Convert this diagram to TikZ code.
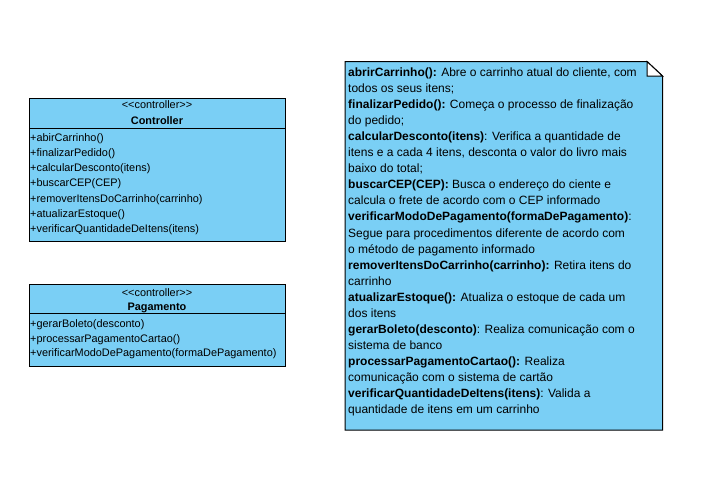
\documentclass[tikz,border=0pt]{standalone}
\usepackage{fontspec}
\setmainfont{Liberation Sans}
\definecolor{umlblue}{RGB}{122,207,245}
\tikzset{
  umlbox/.style={draw=black, fill=umlblue, line width=1pt, inner sep=0pt, anchor=north west},
  ctext/.style={anchor=base west, inner sep=0pt, font=\fontsize{10.9}{12}\selectfont},
  chead/.style={anchor=base, inner sep=0pt, font=\fontsize{10.9}{12}\selectfont},
  ntext/.style={anchor=base west, inner sep=0pt, font=\fontsize{12}{14}\selectfont},
}
\begin{document}
\begin{tikzpicture}[x=1pt,y=-1pt]
\useasboundingbox[fill=white] (0,0) rectangle (720,482);
% Controller class
\node[umlbox, minimum width=256pt, minimum height=143.5pt] (ctrl) at (29,97.5) {};
\draw[line width=1pt] (29,128) -- (285,128);
\node[chead] (ctrlst) at (157,108.5) {{<}{<}controller{>}{>}};
\node[chead] (ctrlname) at (157,124) {\bfseries Controller};
\foreach \t [count=\i] in {+abirCarrinho(),+finalizarPedido(),+calcularDesconto(itens),+buscarCEP(CEP),+removerItensDoCarrinho(carrinho),+atualizarEstoque(),+verificarQuantidadeDeItens(itens)}
  \node[ctext] (cm\i) at (30,{137+(\i-1)*15.3+4}) {\t};
% Pagamento class
\node[umlbox, minimum width=256pt, minimum height=82pt] (pag) at (29,284) {};
\draw[line width=1pt] (29,313.5) -- (285,313.5);
\node[chead] (pagst) at (157,296.5) {{<}{<}controller{>}{>}};
\node[chead] (pagname) at (157,310) {\bfseries Pagamento};
\foreach \t [count=\i] in {+gerarBoleto(desconto),+processarPagamentoCartao(),+verificarModoDePagamento(formaDePagamento)}
  \node[ctext] (pm\i) at (30,{323.5+(\i-1)*14.7+4}) {\t};
% Note
\filldraw[fill=umlblue, draw=black, line width=1pt] (345,61.5) -- (647,61.5) -- (662.5,76) -- (662.5,430) -- (345,430) -- cycle;
\filldraw[fill=white, draw=black, line width=1pt] (647,61.5) -- (647,76) -- (662.5,76) -- cycle;
\foreach \t [count=\i] in {
  {\bfseries abrirCarrinho():} Abre o carrinho atual do cliente{,} com,
  todos os seus itens;,
  {\bfseries finalizarPedido():} Começa o processo de finalização,
  do pedido;,
  {\bfseries calcularDesconto(itens)}: Verifica a quantidade de,
  itens e a cada 4 itens{,} desconta o valor do livro mais,
  baixo do total;,
  {\bfseries buscarCEP(CEP):} Busca o endereço do ciente e,
  calcula o frete de acordo com o CEP informado,
  {\bfseries verificarModoDePagamento(formaDePagamento)}:,
  Segue para procedimentos diferente de acordo com,
  o método de pagamento informado,
  {\bfseries removerItensDoCarrinho(carrinho):} Retira itens do,
  carrinho,
  {\bfseries atualizarEstoque():} Atualiza o estoque de cada um,
  dos itens,
  {\bfseries gerarBoleto(desconto)}: Realiza comunicação com o,
  sistema de banco,
  {\bfseries processarPagamentoCartao():} Realiza,
  comunicação com o sistema de cartão,
  {\bfseries verificarQuantidadeDeItens(itens)}: Valida a,
  quantidade de itens em um carrinho}
  \node[ntext] (n\i) at (348,{72+(\i-1)*16.05+4.5}) {\t};
\end{tikzpicture}
\end{document}
